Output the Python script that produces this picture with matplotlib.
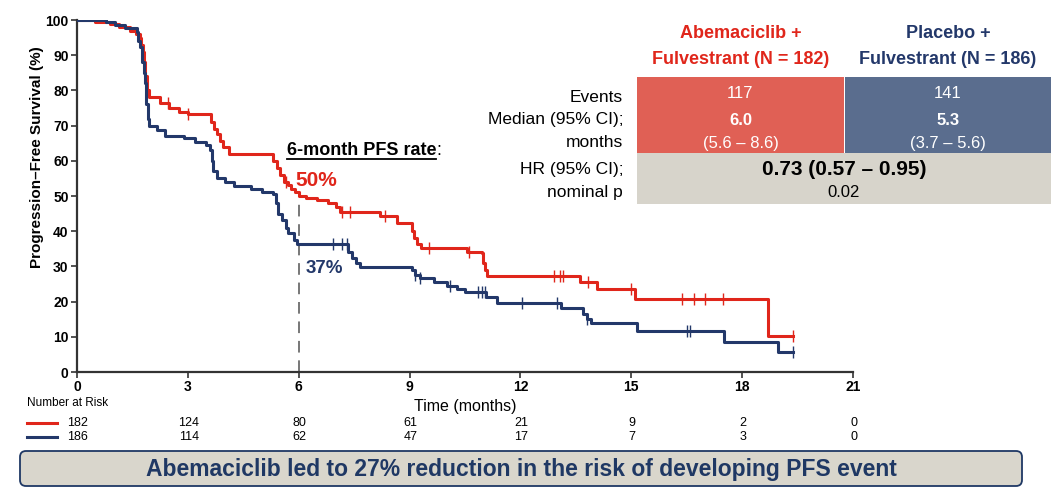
import numpy as np
import matplotlib
matplotlib.use('Agg')
import matplotlib.pyplot as plt
from matplotlib.patches import Rectangle, FancyBboxPatch

plt.rcParams['font.family'] = ['Liberation Sans', 'DejaVu Sans']

RED = '#e0261b'
NAVY = '#23386a'
RED_CELL = '#e06055'
NAVY_CELL = '#5a6d8e'
GREY_CELL = '#d7d4cb'

# KM steps (months, % PFS)
abema_t = [0, 0.5, 0.9, 1.15, 1.43, 1.6, 1.7, 1.74, 1.78, 1.81, 1.85, 1.9, 1.96, 2.25, 2.5, 2.75,
           3.0, 3.62, 3.7, 3.78, 3.87, 3.95, 4.1, 5.3, 5.4, 5.5, 5.6, 5.7, 5.8, 5.9, 6.0, 6.2,
           6.5, 6.8, 7.0, 7.12, 8.2, 8.65, 9.07, 9.13, 9.2, 9.3, 10.55, 10.95, 11.0, 11.05, 11.1,
           13.6, 14.07, 15.1, 18.7, 19.38]
abema_s = [100, 99.5, 99, 98, 97, 96, 95, 93, 91, 88, 84, 80, 78, 76.5, 75, 74,
           73.3, 71, 69, 67.5, 65.5, 64, 62, 60, 58, 56, 54, 53, 52, 51, 50, 49.3,
           48.8, 48, 47, 45.5, 44.2, 42.4, 40, 38, 36.5, 35.2, 34.2, 33.7, 31, 29, 27.3,
           25.5, 23.5, 20.8, 10.3, 10.3]
abema_cens = [2.46, 3.0, 5.65, 7.17, 7.4, 8.34, 9.53, 10.6, 12.9, 13.07, 13.16, 13.83, 15.0,
              16.37, 16.7, 17.0, 17.48, 19.38]

plac_t = [0, 0.78, 1.03, 1.3, 1.63, 1.66, 1.7, 1.75, 1.8, 1.84, 1.88, 1.92, 1.96, 2.16, 2.38,
          2.9, 3.2, 3.5, 3.6, 3.65, 3.69, 3.8, 4.0, 4.25, 4.7, 5.0, 5.3, 5.38, 5.45, 5.55, 5.65,
          5.72, 5.86, 5.95, 7.34, 7.43, 7.55, 7.66, 9.07, 9.15, 9.28, 9.65, 10.0, 10.27, 10.5,
          11.08, 11.36, 13.1, 13.7, 13.8, 13.9, 15.15, 17.5, 18.97, 19.38]
plac_s = [100, 99.5, 98.6, 97.8, 96.7, 94, 92.4, 88, 85, 82, 76, 72, 70, 68.8, 67,
          66.4, 65.4, 64.5, 63, 60, 57, 55, 54, 52.8, 52, 51.2, 50.5, 48, 45, 43.2, 41,
          39.5, 37.5, 36.5, 34, 32.5, 31, 29.9, 29, 27.5, 26.6, 25.5, 24.5, 23.6, 22.8,
          21.4, 19.5, 18.2, 16.5, 15, 13.9, 11.6, 8.5, 5.8, 5.8]
plac_cens = [6.93, 7.17, 7.3, 9.15, 9.28, 10.1, 10.85, 10.95, 11.04, 12.04, 13.0, 13.8,
             16.5, 16.6, 19.38]

risk_times = [0, 3, 6, 9, 12, 15, 18, 21]
abema_risk = [182, 124, 80, 61, 21, 9, 2, 0]
plac_risk = [186, 114, 62, 47, 17, 7, 3, 0]

arm_names = ['Abemaciclib +', 'Placebo +']
arm_ns = ['Fulvestrant (N = 182)', 'Fulvestrant (N = 186)']
arm_events = ['117', '141']
arm_median = ['6.0', '5.3']
arm_ci = ['(5.6 \u2013 8.6)', '(3.7 \u2013 5.6)']
row_labels = ['Events', 'Median (95% CI);', 'months', 'HR (95% CI);', 'nominal p']
hr_text = '0.73 (0.57 \u2013 0.95)'
p_text = '0.02'
banner = 'Abemaciclib led to 27% reduction in the risk of developing PFS event'


def step_at(t, times, surv):
    i = np.searchsorted(times, t, side='right') - 1
    return np.asarray(surv)[i]


W, H = 1060, 494
fig = plt.figure(figsize=(W / 100, H / 100), dpi=100)
ax = fig.add_axes([77 / W, 1 - 372 / H, (853 - 77) / W, (372 - 20) / H])

for t, s, c, cens in [(abema_t, abema_s, RED, abema_cens), (plac_t, plac_s, NAVY, plac_cens)]:
    ax.plot(t, s, drawstyle='steps-post', color=c, lw=2.2, zorder=3)
    ax.plot(cens, step_at(cens, t, s), ls='none', marker='|', ms=8, mew=1.0, color=c, zorder=3)

six_rate = step_at(6, abema_t, abema_s)
ax.plot([6, 6], [0, six_rate], ls=(0, (6, 4)), color='#777777', lw=1.4, zorder=2)

ax.set_xlim(0, 21)
ax.set_ylim(0, 100)
ax.set_xticks(risk_times)
ax.set_yticks(range(0, 101, 10))
for sp in ['top', 'right']:
    ax.spines[sp].set_visible(False)
for sp in ['left', 'bottom']:
    ax.spines[sp].set_linewidth(1.6)
    ax.spines[sp].set_color('#333333')
ax.tick_params(length=4, width=1.2, color='#333333', pad=2)
for lab in ax.get_xticklabels() + ax.get_yticklabels():
    lab.set_fontweight('bold')
    lab.set_fontsize(10)
ax.set_ylabel('Progression\u2013Free Survival (%)', fontsize=11, fontweight='bold')
ax.yaxis.set_label_coords(-0.042, 0.61)
ax.set_xlabel('Time (months)', fontsize=11.5, labelpad=3)

# 6-month annotation
title = ax.text(5.68, 63.0, '6-month PFS rate', fontsize=13, fontweight='bold', va='center')
fig.canvas.draw()
bb = title.get_window_extent().transformed(ax.transData.inverted())
ax.plot([bb.x0, bb.x1], [bb.y0 - 0.2, bb.y0 - 0.2], color='black', lw=1.3, clip_on=False)
ax.text(bb.x1, 63.0, ':', fontsize=13, va='center')
ax.text(5.92, 54.5, f'{six_rate:.0f}%', fontsize=15, fontweight='bold', color=RED, va='center')
ax.text(6.2, 29.5, f'{step_at(6, plac_t, plac_s) + 0.5:.0f}%', fontsize=13.5, fontweight='bold',
        color=NAVY, va='center')

# overlay in pixel coordinates for table, risk table and banner
lay = fig.add_axes([0, 0, 1, 1], zorder=5)
lay.set_xlim(0, W)
lay.set_ylim(H, 0)
lay.axis('off')

# number at risk
lay.text(27, 403, 'Number at Risk', fontsize=8.5, va='center')
for y, c, vals in [(423, RED, abema_risk), (437, NAVY, plac_risk)]:
    lay.plot([27, 57], [y, y], color=c, lw=2.2)
    for t, v in zip(risk_times, vals):
        px = ax.transData.transform((t, 0))[0]
        lay.text(px + 1, y, str(v), fontsize=9, ha='center', va='center')

# summary table
cols = [(637, 844, RED_CELL, RED), (845, 1051, NAVY_CELL, NAVY)]
for i, (x0, x1, fc, tc) in enumerate(cols):
    lay.add_patch(Rectangle((x0, 77), x1 - x0, 76, fc=fc, ec='none'))
    xc = (x0 + x1) / 2
    lay.text(xc, 33, arm_names[i], fontsize=13, fontweight='bold', color=tc, ha='center', va='center')
    lay.text(xc, 59, arm_ns[i], fontsize=13, fontweight='bold', color=tc, ha='center', va='center')
    lay.text(xc, 94, arm_events[i], fontsize=12, color='white', ha='center', va='center')
    lay.text(xc, 120, arm_median[i], fontsize=12, fontweight='bold', color='white', ha='center', va='center')
    lay.text(xc, 143, arm_ci[i], fontsize=12, color='white', ha='center', va='center')
lay.add_patch(Rectangle((637, 153), 1051 - 637, 51, fc=GREY_CELL, ec='none'))
lay.text(844, 169, hr_text, fontsize=15, fontweight='bold', ha='center', va='center')
lay.text(844, 192, p_text, fontsize=12, ha='center', va='center')
for lbl, y in zip(row_labels, [97, 119, 142, 169, 192]):
    lay.text(623, y, lbl, fontsize=12.5, ha='right', va='center')

# banner
lay.add_patch(FancyBboxPatch((20, 451), 1002, 35, boxstyle='round,pad=0,rounding_size=6',
                             fc='#d9d6cc', ec='#1f3864', lw=1.3))
lay.text(521, 469, banner, fontsize=16.5, fontweight='bold', color='#1f3864',
         ha='center', va='center')

fig.savefig('out.png', dpi=100)
